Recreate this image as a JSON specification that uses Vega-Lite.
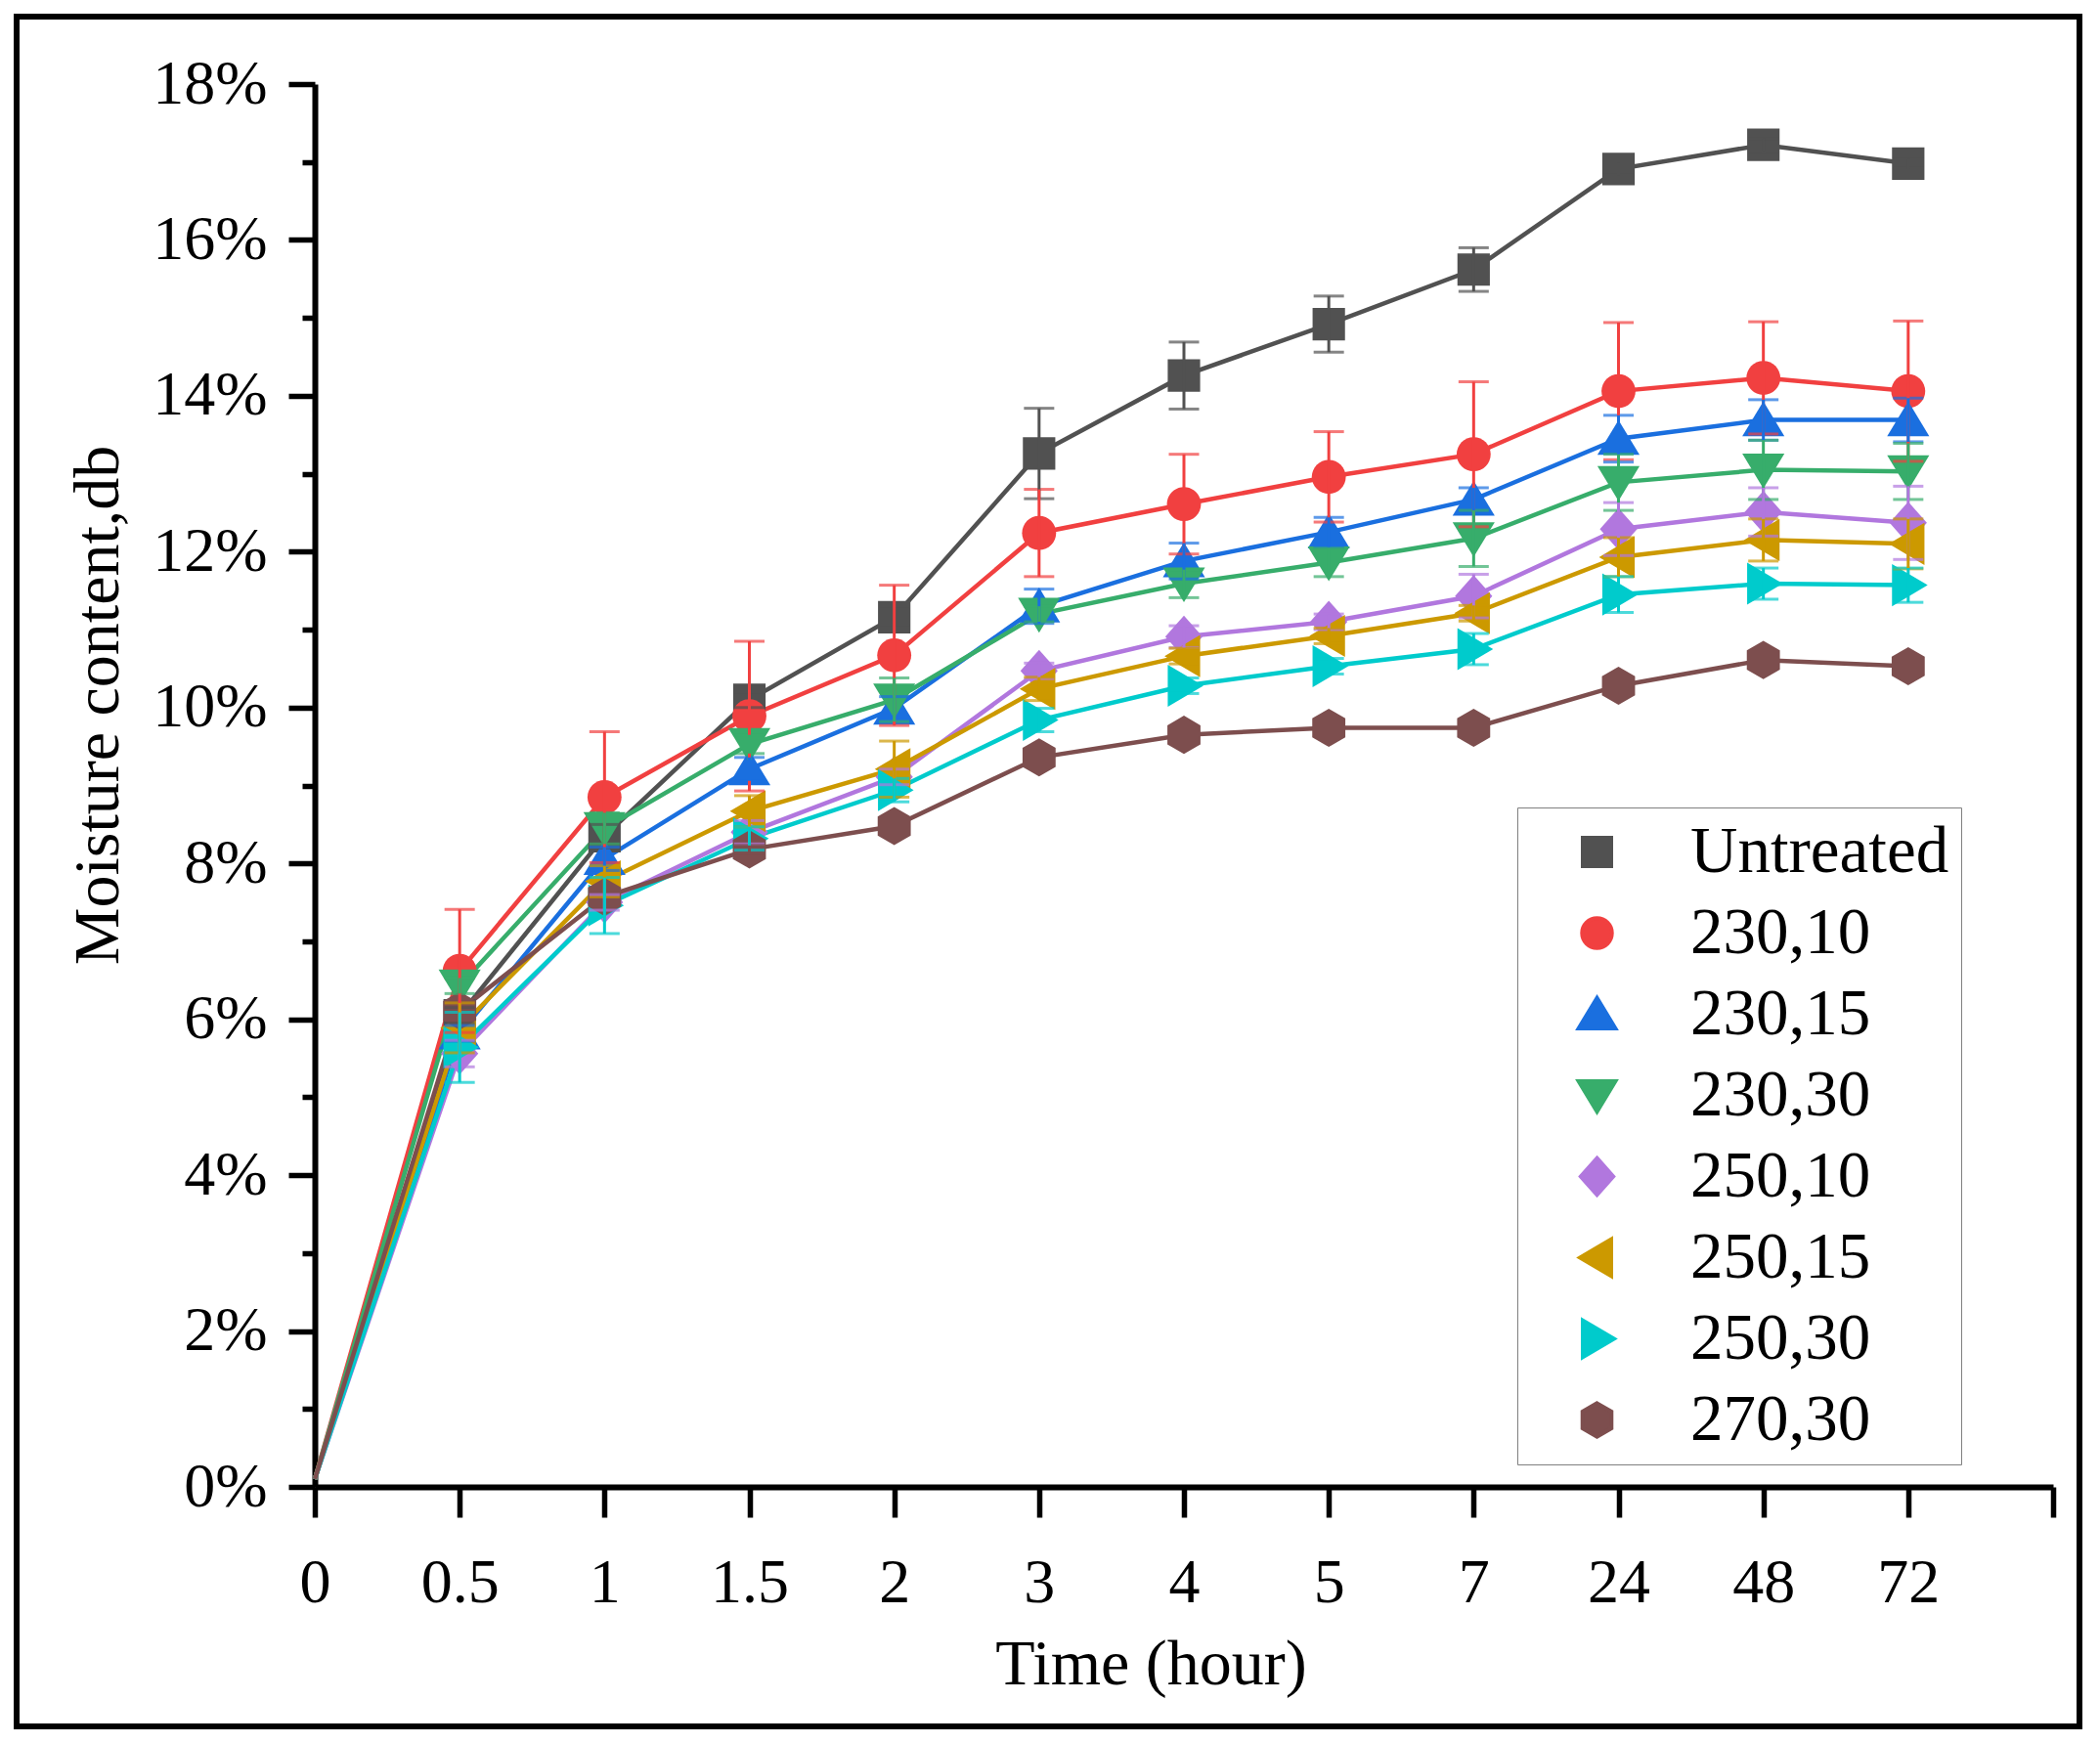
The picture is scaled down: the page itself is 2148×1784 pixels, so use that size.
{
  "$schema": "https://vega.github.io/schema/vega-lite/v6.json",
  "width": 2110,
  "height": 1749,
  "autosize": "none",
  "padding": {"left": 17, "top": 17, "right": 21, "bottom": 18},
  "background": "white",
  "datasets": {
    "mc": [
      {"s": "Untreated", "t": "0", "v": 0.1, "e": 0},
      {"s": "Untreated", "t": "0.5", "v": 6.05, "e": 0.1},
      {"s": "Untreated", "t": "1", "v": 8.35, "e": 0.15},
      {"s": "Untreated", "t": "1.5", "v": 10.1, "e": 0.1},
      {"s": "Untreated", "t": "2", "v": 11.16, "e": 0.1},
      {"s": "Untreated", "t": "3", "v": 13.26, "e": 0.58},
      {"s": "Untreated", "t": "4", "v": 14.26, "e": 0.43},
      {"s": "Untreated", "t": "5", "v": 14.92, "e": 0.36},
      {"s": "Untreated", "t": "7", "v": 15.62, "e": 0.28},
      {"s": "Untreated", "t": "24", "v": 16.91, "e": 0.08},
      {"s": "Untreated", "t": "48", "v": 17.22, "e": 0.08},
      {"s": "Untreated", "t": "72", "v": 16.98, "e": 0.06},
      {"s": "230,10", "t": "0", "v": 0.1, "e": 0},
      {"s": "230,10", "t": "0.5", "v": 6.62, "e": 0.79},
      {"s": "230,10", "t": "1", "v": 8.85, "e": 0.84},
      {"s": "230,10", "t": "1.5", "v": 9.89, "e": 0.96},
      {"s": "230,10", "t": "2", "v": 10.67, "e": 0.9},
      {"s": "230,10", "t": "3", "v": 12.24, "e": 0.56},
      {"s": "230,10", "t": "4", "v": 12.61, "e": 0.64},
      {"s": "230,10", "t": "5", "v": 12.96, "e": 0.58},
      {"s": "230,10", "t": "7", "v": 13.25, "e": 0.93},
      {"s": "230,10", "t": "24", "v": 14.06, "e": 0.88},
      {"s": "230,10", "t": "48", "v": 14.23, "e": 0.72},
      {"s": "230,10", "t": "72", "v": 14.06, "e": 0.9},
      {"s": "230,15", "t": "0", "v": 0.1, "e": 0},
      {"s": "230,15", "t": "0.5", "v": 5.82, "e": 0.1},
      {"s": "230,15", "t": "1", "v": 8.06, "e": 0.15},
      {"s": "230,15", "t": "1.5", "v": 9.21, "e": 0.15},
      {"s": "230,15", "t": "2", "v": 9.99, "e": 0.15},
      {"s": "230,15", "t": "3", "v": 11.3, "e": 0.22},
      {"s": "230,15", "t": "4", "v": 11.88, "e": 0.23},
      {"s": "230,15", "t": "5", "v": 12.25, "e": 0.19},
      {"s": "230,15", "t": "7", "v": 12.67, "e": 0.15},
      {"s": "230,15", "t": "24", "v": 13.45, "e": 0.3},
      {"s": "230,15", "t": "48", "v": 13.69, "e": 0.26},
      {"s": "230,15", "t": "72", "v": 13.69, "e": 0.28},
      {"s": "230,30", "t": "0", "v": 0.1, "e": 0},
      {"s": "230,30", "t": "0.5", "v": 6.43, "e": 0.1},
      {"s": "230,30", "t": "1", "v": 8.45, "e": 0.2},
      {"s": "230,30", "t": "1.5", "v": 9.53, "e": 0.12},
      {"s": "230,30", "t": "2", "v": 10.1, "e": 0.28},
      {"s": "230,30", "t": "3", "v": 11.2, "e": 0.1},
      {"s": "230,30", "t": "4", "v": 11.59, "e": 0.18},
      {"s": "230,30", "t": "5", "v": 11.86, "e": 0.18},
      {"s": "230,30", "t": "7", "v": 12.17, "e": 0.36},
      {"s": "230,30", "t": "24", "v": 12.89, "e": 0.36},
      {"s": "230,30", "t": "48", "v": 13.05, "e": 0.38},
      {"s": "230,30", "t": "72", "v": 13.03, "e": 0.36},
      {"s": "250,10", "t": "0", "v": 0.1, "e": 0},
      {"s": "250,10", "t": "0.5", "v": 5.56, "e": 0.17},
      {"s": "250,10", "t": "1", "v": 7.5, "e": 0.1},
      {"s": "250,10", "t": "1.5", "v": 8.4, "e": 0.15},
      {"s": "250,10", "t": "2", "v": 9.11, "e": 0.1},
      {"s": "250,10", "t": "3", "v": 10.47, "e": 0.1},
      {"s": "250,10", "t": "4", "v": 10.91, "e": 0.14},
      {"s": "250,10", "t": "5", "v": 11.1, "e": 0.1},
      {"s": "250,10", "t": "7", "v": 11.43, "e": 0.28},
      {"s": "250,10", "t": "24", "v": 12.29, "e": 0.34},
      {"s": "250,10", "t": "48", "v": 12.51, "e": 0.31},
      {"s": "250,10", "t": "72", "v": 12.37, "e": 0.47},
      {"s": "250,15", "t": "0", "v": 0.1, "e": 0},
      {"s": "250,15", "t": "0.5", "v": 5.89, "e": 0.32},
      {"s": "250,15", "t": "1", "v": 7.77, "e": 0.2},
      {"s": "250,15", "t": "1.5", "v": 8.67, "e": 0.2},
      {"s": "250,15", "t": "2", "v": 9.21, "e": 0.36},
      {"s": "250,15", "t": "3", "v": 10.24, "e": 0.15},
      {"s": "250,15", "t": "4", "v": 10.66, "e": 0.1},
      {"s": "250,15", "t": "5", "v": 10.92, "e": 0.1},
      {"s": "250,15", "t": "7", "v": 11.21, "e": 0.1},
      {"s": "250,15", "t": "24", "v": 11.93, "e": 0.25},
      {"s": "250,15", "t": "48", "v": 12.15, "e": 0.27},
      {"s": "250,15", "t": "72", "v": 12.1, "e": 0.32},
      {"s": "250,30", "t": "0", "v": 0.1, "e": 0},
      {"s": "250,30", "t": "0.5", "v": 5.64, "e": 0.45},
      {"s": "250,30", "t": "1", "v": 7.46, "e": 0.36},
      {"s": "250,30", "t": "1.5", "v": 8.32, "e": 0.15},
      {"s": "250,30", "t": "2", "v": 8.94, "e": 0.15},
      {"s": "250,30", "t": "3", "v": 9.84, "e": 0.15},
      {"s": "250,30", "t": "4", "v": 10.28, "e": 0.1},
      {"s": "250,30", "t": "5", "v": 10.53, "e": 0.1},
      {"s": "250,30", "t": "7", "v": 10.75, "e": 0.2},
      {"s": "250,30", "t": "24", "v": 11.45, "e": 0.23},
      {"s": "250,30", "t": "48", "v": 11.59, "e": 0.2},
      {"s": "250,30", "t": "72", "v": 11.57, "e": 0.22},
      {"s": "270,30", "t": "0", "v": 0.1, "e": 0},
      {"s": "270,30", "t": "0.5", "v": 6.11, "e": 0},
      {"s": "270,30", "t": "1", "v": 7.57, "e": 0},
      {"s": "270,30", "t": "1.5", "v": 8.18, "e": 0.05},
      {"s": "270,30", "t": "2", "v": 8.48, "e": 0},
      {"s": "270,30", "t": "3", "v": 9.36, "e": 0},
      {"s": "270,30", "t": "4", "v": 9.65, "e": 0},
      {"s": "270,30", "t": "5", "v": 9.74, "e": 0},
      {"s": "270,30", "t": "7", "v": 9.74, "e": 0},
      {"s": "270,30", "t": "24", "v": 10.28, "e": 0},
      {"s": "270,30", "t": "48", "v": 10.61, "e": 0},
      {"s": "270,30", "t": "72", "v": 10.53, "e": 0}
    ]
  },
  "data": {"name": "mc"},
  "layer": [
    {
      "mark": {"type": "line", "strokeWidth": 4.5},
      "encoding": {
        "x": {
          "field": "t",
          "type": "ordinal",
          "scale": {
            "type": "point",
            "domain": ["0", "0.5", "1", "1.5", "2", "3", "4", "5", "7", "24", "48", "72", " "],
            "range": [305, 2083],
            "padding": 0
          },
          "axis": {
            "orient": "bottom",
            "offset": -245,
            "tickSize": 31,
            "labelPadding": 86,
            "labelBaseline": "alphabetic",
            "labelAngle": 0,
            "labelOverlap": false,
            "title": "Time (hour)",
            "titleX": 1160,
            "titleY": 201,
            "titleBaseline": "alphabetic",
            "titleAlign": "center"
          }
        },
        "y": {
          "field": "v",
          "type": "quantitative",
          "scale": {"domain": [0, 18], "range": [1504, 69], "nice": false},
          "axis": {
            "orient": "left",
            "offset": -305,
            "values": [0, 2, 4, 6, 8, 10, 12, 14, 16, 18],
            "labelExpr": "datum.value + '%'",
            "tickSize": 27,
            "labelPadding": 22,
            "title": "Moisture content,db",
            "titleX": -202,
            "titleY": 704,
            "titleAngle": 270,
            "titleBaseline": "alphabetic",
            "titleAlign": "center"
          }
        },
        "color": {
          "field": "s",
          "type": "nominal",
          "scale": {
            "domain": ["Untreated", "230,10", "230,15", "230,30", "250,10", "250,15", "250,30", "270,30"],
            "range": ["#515151", "#F14040", "#1A6FDF", "#37AD6B", "#B177DE", "#CC9900", "#00CBCC", "#7D4E4E"]
          }
        },
        "order": {"value": null}
      }
    },
    {
      "transform": [{"filter": "datum.t !== '0'"}],
      "mark": {"type": "point", "filled": true, "size": 1100, "opacity": 1},
      "encoding": {
        "x": {"field": "t", "type": "ordinal"},
        "y": {
          "field": "v",
          "type": "quantitative",
          "axis": {
            "orient": "left",
            "offset": -305,
            "values": [1, 3, 5, 7, 9, 11, 13, 15, 17],
            "labels": false,
            "domain": false,
            "tickSize": 13,
            "title": null
          }
        },
        "color": {
          "field": "s",
          "type": "nominal",
          "legend": {
            "orient": "none",
            "legendX": 1535,
            "legendY": 809,
            "title": null,
            "padding": 12,
            "rowPadding": 15,
            "strokeColor": "#808080",
            "labelFont": "Liberation Serif",
            "labelFontSize": 67,
            "labelColor": "black",
            "labelLimit": 2000,
            "labelOffset": 62,
            "symbolOffset": 36,
            "symbolSize": 841,
            "symbolStrokeWidth": 4
          }
        },
        "shape": {
          "field": "s",
          "type": "nominal",
          "scale": {
            "domain": ["Untreated", "230,10", "230,15", "230,30", "250,10", "250,15", "250,30", "270,30"],
            "range": [
              "M-1,-1H1V1H-1Z",
              "M-1.05,0A1.05,1.05,0,1,1,1.05,0A1.05,1.05,0,1,1,-1.05,0Z",
              "M0,-1.15L1.3,1L-1.3,1Z",
              "M0,1.15L1.3,-1L-1.3,-1Z",
              "M0,-1.3L1.15,0L0,1.3L-1.15,0Z",
              "M-1.2,0L1,-1.3L1,1.3Z",
              "M1.2,0L-1,-1.3L-1,1.3Z",
              "M0,-1.18L1.02,-0.59L1.02,0.59L0,1.18L-1.02,0.59L-1.02,-0.59Z"
            ]
          },
          "legend": null
        }
      }
    },
    {
      "transform": [{"filter": "datum.e > 0"}],
      "mark": {"type": "errorbar", "thickness": 3, "ticks": {"size": 31, "thickness": 3}},
      "encoding": {
        "x": {"field": "t", "type": "ordinal"},
        "y": {"field": "v", "type": "quantitative", "axis": null},
        "yError": {"field": "e"},
        "color": {"field": "s", "type": "nominal"}
      }
    }
  ],
  "resolve": {"axis": {"y": "independent"}},
  "config": {
    "view": {"stroke": "black", "strokeWidth": 6, "fill": "white"},
    "font": "Liberation Serif",
    "axis": {
      "labelFont": "Liberation Serif",
      "labelFontSize": 64,
      "labelColor": "black",
      "titleFont": "Liberation Serif",
      "titleFontSize": 66,
      "titleFontWeight": "normal",
      "titleColor": "black",
      "domainColor": "black",
      "domainWidth": 6,
      "tickColor": "black",
      "tickWidth": 5.5,
      "grid": false
    }
  }
}
